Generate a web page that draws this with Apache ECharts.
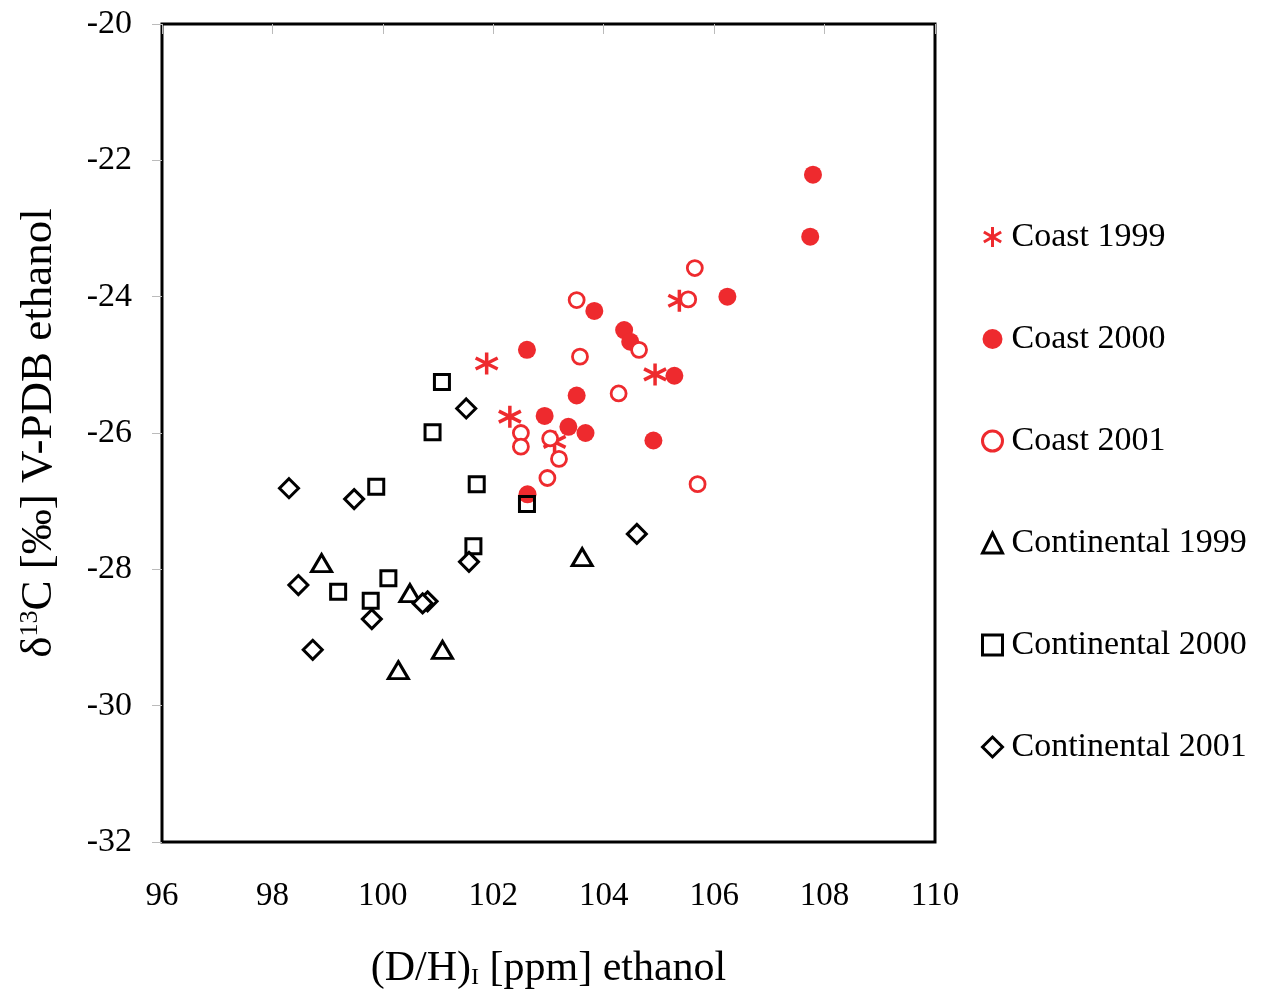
<!DOCTYPE html>
<html>
<head>
<meta charset="utf-8">
<script src="https://cdn.jsdelivr.net/npm/echarts@6/dist/echarts.min.js"></script>
<style>html,body{margin:0;padding:0;background:#fff;}#c{width:1265px;height:990px;}</style>
</head>
<body>
<div id="c"></div>
<script>
const seriesNames = ['Coast 1999','Coast 2000','Coast 2001','Continental 1999','Continental 2000','Continental 2001'];
const xTicks = [96,98,100,102,104,106,108,110];
const yTicks = [-20,-22,-24,-26,-28,-30,-32];

const coast1999X = [101.88, 104.93, 102.30, 105.37, 103.11];
const coast1999Y = [-24.98, -25.14, -25.76, -24.06, -26.13];

const coast2000X = [103.83, 104.37, 104.48, 102.61, 105.28, 103.51, 102.93, 103.36, 103.67, 104.90, 102.62, 107.79, 107.74, 106.24];
const coast2000Y = [-24.21, -24.49, -24.66, -24.78, -25.16, -25.45, -25.75, -25.91, -26.00, -26.11, -26.90, -22.21, -23.12, -24.00];

const coast2001X = [105.65, 103.51, 105.53, 104.64, 103.57, 104.27, 102.50, 102.50, 103.03, 103.19, 102.98, 105.70];
const coast2001Y = [-23.58, -24.05, -24.04, -24.78, -24.88, -25.42, -26.00, -26.20, -26.08, -26.38, -26.66, -26.75];

const cont1999X = [98.89, 100.49, 101.08, 100.28, 103.61];
const cont1999Y = [-27.91, -28.35, -29.18, -29.48, -27.82];

const cont2000X = [101.07, 100.90, 99.88, 101.70, 102.61, 101.64, 100.10, 99.19, 99.78];
const cont2000Y = [-25.25, -25.99, -26.79, -26.75, -27.04, -27.66, -28.13, -28.33, -28.46];

const cont2001X = [101.51, 98.30, 99.48, 101.56, 98.47, 100.81, 100.72, 99.80, 98.73, 104.60];
const cont2001Y = [-25.64, -26.81, -26.97, -27.89, -28.23, -28.47, -28.50, -28.73, -29.18, -27.48];

function pairs(xs, ys){ return xs.map((x,i)=>[x, ys[i]]); }

const RED = '#ee2a2e';
const BLK = '#000000';
const FONT = '"Liberation Serif", "DejaVu Serif", serif';
const asterisk = 'path://M0,-10L0,10M-8.66,-5L8.66,5M-8.66,5L8.66,-5';

const chart = echarts.init(document.getElementById('c'));
chart.setOption({
  animation: false,
  backgroundColor: '#fff',
  textStyle: { fontFamily: FONT },
  grid: { left: 162, top: 24, right: 330, bottom: 148, containLabel: false, outerBoundsMode: 'none',
          show: true, borderColor: '#000', borderWidth: 3, backgroundColor: 'transparent' },
  legend: {
    orient: 'vertical', left: 976, top: 215, itemGap: 68,
    itemWidth: 20, itemHeight: 20,
    itemStyle: { borderWidth: 3 },
    textStyle: { fontFamily: FONT, fontSize: 34, color: '#000', padding: [0,0,0,4] },
    data: seriesNames
  },
  xAxis: [{
    type: 'value', min: 96, max: 110, interval: 2, position: 'bottom',
    axisLine: { show: false }, axisTick: { show: false }, splitLine: { show: false },
    axisLabel: { fontFamily: FONT, fontSize: 33, color: '#000', margin: 38 },
    name: '(D/H){sub|I} [ppm] ethanol', nameLocation: 'middle', nameGap: 106,
    nameTextStyle: { fontFamily: FONT, fontSize: 42, color: '#000',
      rich: { sub: { fontFamily: FONT, fontSize: 24, color: '#000', verticalAlign: 'bottom', padding: [16,0,0,0] } } }
  },{
    type: 'value', min: 96, max: 110, interval: 2, position: 'top',
    axisLine: { show: false }, axisLabel: { show: false }, splitLine: { show: false },
    axisTick: { show: true, inside: true, length: 10, lineStyle: { color: '#bbb', width: 1 } }
  }],
  yAxis: {
    type: 'value', min: -32, max: -20, interval: 2,
    axisLine: { show: false }, splitLine: { show: false },
    axisTick: { show: true, inside: false, length: 10, lineStyle: { color: '#bbb', width: 1 } },
    axisLabel: { fontFamily: FONT, fontSize: 34, color: '#000', margin: 30 },
    name: 'δ{sup|13}C [‰] V-PDB ethanol', nameLocation: 'middle', nameGap: 100, nameRotate: 90,
    nameTextStyle: { fontFamily: FONT, fontSize: 45, color: '#000',
      rich: { sup: { fontFamily: FONT, fontSize: 26, color: '#000', verticalAlign: 'top', padding: [0,0,16,0] } } }
  },
  series: [
    { name: 'Coast 1999', type: 'scatter', xAxisIndex: 0, data: pairs(coast1999X, coast1999Y), symbol: asterisk, symbolSize: 22,
      itemStyle: { color: 'transparent', borderColor: RED, borderWidth: 3.5, opacity: 1 }, z: 3 },
    { name: 'Coast 2000', type: 'scatter', xAxisIndex: 0, data: pairs(coast2000X, coast2000Y), symbol: 'circle', symbolSize: 18,
      itemStyle: { color: RED, borderWidth: 0, opacity: 1 }, z: 2 },
    { name: 'Coast 2001', type: 'scatter', xAxisIndex: 0, data: pairs(coast2001X, coast2001Y), symbol: 'circle', symbolSize: 15,
      itemStyle: { color: '#fff', borderColor: RED, borderWidth: 2.8, opacity: 1 }, z: 4 },
    { name: 'Continental 1999', type: 'scatter', xAxisIndex: 0, data: pairs(cont1999X, cont1999Y), symbol: 'triangle', symbolSize: [20,17],
      itemStyle: { color: 'transparent', borderColor: BLK, borderWidth: 3, opacity: 1 }, z: 3 },
    { name: 'Continental 2000', type: 'scatter', xAxisIndex: 0, data: pairs(cont2000X, cont2000Y), symbol: 'rect', symbolSize: 15,
      itemStyle: { color: 'transparent', borderColor: BLK, borderWidth: 3, opacity: 1 }, z: 3 },
    { name: 'Continental 2001', type: 'scatter', xAxisIndex: 0, data: pairs(cont2001X, cont2001Y), symbol: 'diamond', symbolSize: 19,
      itemStyle: { color: '#fff', borderColor: BLK, borderWidth: 3, opacity: 1 }, z: 3 }
  ]
});
</script>
</body>
</html>
